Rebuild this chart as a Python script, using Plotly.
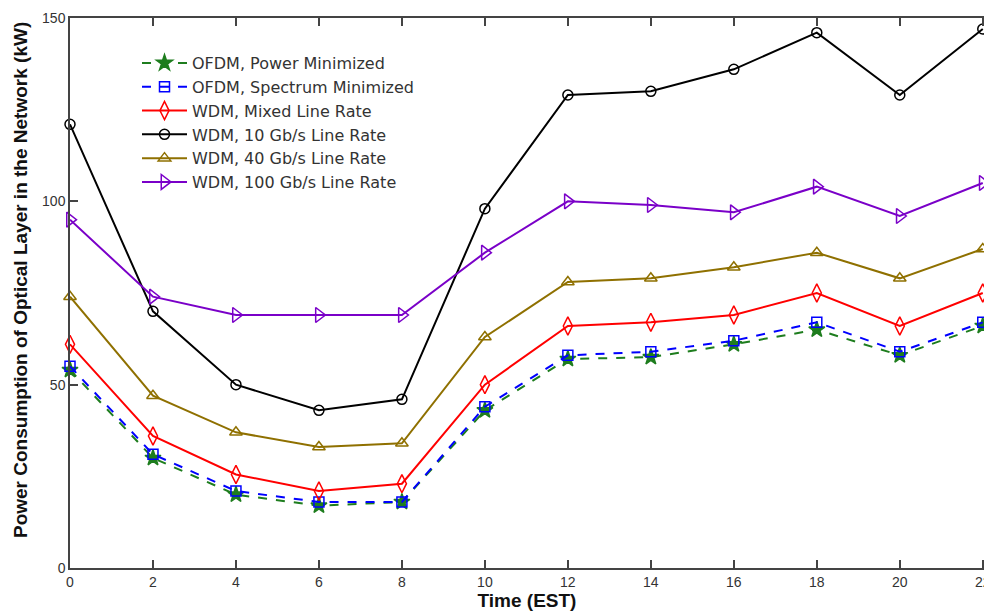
import plotly.graph_objects as go

hours = [0, 2, 4, 6, 8, 10, 12, 14, 16, 18, 20, 22]

ofdm_power_min = [54, 30, 20, 17, 18, 43, 57, 57.5, 61, 65, 58, 66]
ofdm_spectrum_min = [55, 31, 21, 18, 18, 44, 58, 59, 62, 67, 59, 67]
wdm_mixed = [61, 36, 25.5, 21, 23, 50, 66, 67, 69, 75, 66, 75]
wdm_10g = [121, 70, 50, 43, 46, 98, 129, 130, 136, 146, 129, 147]
wdm_40g = [74, 47, 37, 33, 34, 63, 78, 79, 82, 86, 79, 87]
wdm_100g = [95, 74, 69, 69, 69, 86, 100, 99, 97, 104, 96, 105]

series_names = [
    "OFDM, Power Minimized",
    "OFDM, Spectrum Minimized",
    "WDM, Mixed Line Rate",
    "WDM, 10 Gb/s Line Rate",
    "WDM, 40 Gb/s Line Rate",
    "WDM, 100 Gb/s Line Rate",
]
series_values = [ofdm_power_min, ofdm_spectrum_min, wdm_mixed, wdm_10g, wdm_40g, wdm_100g]

styles = [
    dict(color="#1e7d1e", dash="dash", symbol="star", size=12),
    dict(color="#0000ff", dash="dash", symbol="square-open", size=10),
    dict(color="#ff0000", dash="solid", symbol="diamond-tall-open", size=13),
    dict(color="#000000", dash="solid", symbol="circle-open", size=10),
    dict(color="#8f7000", dash="solid", symbol="triangle-up-open", size=11),
    dict(color="#7a00c8", dash="solid", symbol="triangle-right-open", size=13),
]

fig = go.Figure()
for name, vals, st in zip(series_names, series_values, styles):
    fig.add_trace(go.Scatter(
        x=hours, y=vals, name=name, mode="lines+markers",
        line=dict(color=st["color"], width=2, dash=st["dash"]),
        marker=dict(symbol=st["symbol"], size=st["size"], color=st["color"],
                    line=dict(color=st["color"], width=1.5)),
        cliponaxis=False,
    ))

axis_font = dict(family="Liberation Sans, Arial, sans-serif", size=14, color="#333333")
title_font = dict(family="Liberation Sans, Arial, sans-serif", size=19, color="#111111")

# The reference is a crop: the axis box ends just past the right edge.
x_max = 22.03

fig.update_layout(
    width=984, height=611,
    margin=dict(l=70, r=0, t=18, b=43, autoexpand=False),
    paper_bgcolor="white", plot_bgcolor="white",
    showlegend=True,
    legend=dict(
        x=(129 - 62) / 914, y=0.949, xanchor="left", yanchor="top",
        bgcolor="rgba(0,0,0,0)", borderwidth=0,
        font=dict(family="DejaVu Sans, sans-serif", size=16, color="#333333"),
        tracegroupgap=0, itemwidth=45,
    ),
    xaxis=dict(
        range=[0, x_max], tickvals=hours, ticktext=[str(h) for h in hours],
        ticks="inside", ticklen=8, tickcolor="#444", tickwidth=1.5,
        showline=True, linecolor="#444", linewidth=1.5, mirror="ticks",
        showgrid=False, zeroline=False, tickfont=axis_font,
        ticklabeloverflow="allow", automargin=False,
        title=dict(text="<b>Time (EST)</b>", font=title_font, standoff=2),
    ),
    yaxis=dict(
        range=[0, 150], tickvals=[0, 50, 100, 150],
        ticks="inside", ticklen=8, tickcolor="#444", tickwidth=1.5,
        showline=True, linecolor="#444", linewidth=1.5, mirror=False,
        showgrid=False, zeroline=False, tickfont=axis_font, automargin=False,
    ),
    annotations=[
        dict(
            text="<b>Power Consumption of Optical Layer in the Network (kW)</b>",
            xref="paper", yref="paper", x=-50 / 914, y=(568 - 280) / 550,
            xanchor="center", yanchor="middle", textangle=-90, showarrow=False,
            font=title_font,
        ),
    ],
)

# remove the page's default 8px body margin so the 984x611 figure fills the window
post = ("document.body.style.margin='0';"
        "var gd=document.getElementById('{plot_id}');"
        "Plotly.relayout(gd,{width:984,height:611});")

fig.write_html("out.html", post_script=post, config={"displayModeBar": False})
